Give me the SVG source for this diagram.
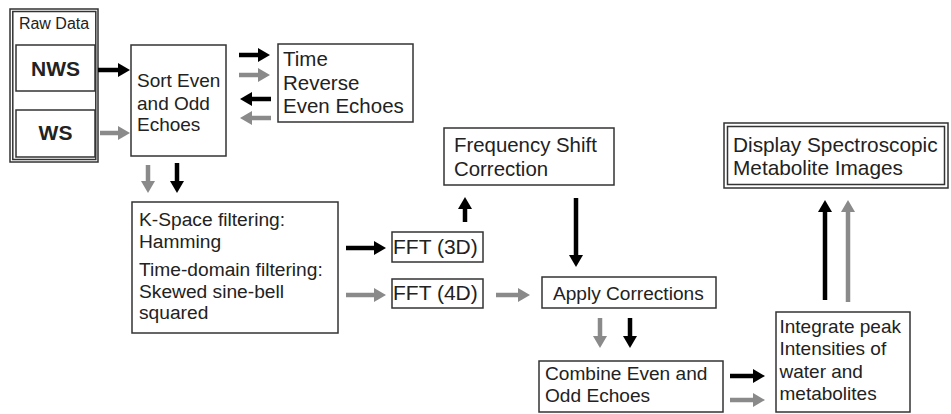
<svg xmlns="http://www.w3.org/2000/svg" width="951" height="414" viewBox="0 0 951 414">
<style>
.box{fill:#fff;stroke:#333;stroke-width:1.5}
.t{font-family:"Liberation Sans",Arial,sans-serif;fill:#222}
.b{font-weight:bold;text-anchor:middle}
.ab{stroke:#000;stroke-width:4.5;fill:none}
.ag{stroke:#8a8a8a;stroke-width:4.5;fill:none}
</style>
<defs>
<marker id="hb" viewBox="0 0 12 14" markerWidth="12" markerHeight="14" refX="2" refY="7" markerUnits="userSpaceOnUse" orient="auto"><path d="M0,0 L12,7 L0,14 z" fill="#000"/></marker>
<marker id="hg" viewBox="0 0 12 14" markerWidth="12" markerHeight="14" refX="2" refY="7" markerUnits="userSpaceOnUse" orient="auto"><path d="M0,0 L12,7 L0,14 z" fill="#8a8a8a"/></marker>
</defs>
<rect width="951" height="414" fill="#fff"/>

<g id="rawdata">
<rect class="box" x="10" y="9" width="88" height="153"/>
<rect class="box" x="12.8" y="11.5" width="83" height="148" fill="none"/>
<text class="t" x="54" y="29" font-size="16" text-anchor="middle">Raw Data</text>
</g>
<g id="nws">
<rect class="box" x="16" y="45" width="79" height="46"/>
<text class="t b" x="55.5" y="76" font-size="21">NWS</text>
</g>
<g id="ws">
<rect class="box" x="16" y="110" width="79" height="47"/>
<text class="t b" x="55.5" y="140" font-size="21">WS</text>
</g>
<g id="sort">
<rect class="box" x="131" y="45" width="95" height="111"/>
<text class="t" font-size="19"><tspan x="137" y="87">Sort Even</tspan><tspan x="137" y="110">and Odd</tspan><tspan x="137" y="131">Echoes</tspan></text>
</g>
<g id="timereverse">
<rect class="box" x="278" y="44" width="135" height="78"/>
<text class="t" font-size="20.5"><tspan x="283" y="66">Time</tspan><tspan x="283" y="90">Reverse</tspan><tspan x="283" y="113">Even Echoes</tspan></text>
</g>
<g id="filtering">
<rect class="box" x="132" y="202" width="206" height="131"/>
<text class="t" font-size="19.2"><tspan x="139" y="226">K-Space filtering:</tspan><tspan x="139" y="248">Hamming</tspan><tspan x="139" y="276">Time-domain filtering:</tspan><tspan x="139" y="298">Skewed sine-bell</tspan><tspan x="139" y="319">squared</tspan></text>
</g>
<g id="fft3d">
<rect class="box" x="392" y="232" width="91" height="30"/>
<text class="t" x="393" y="254" font-size="21">FFT (3D)</text>
</g>
<g id="fft4d">
<rect class="box" x="392" y="279" width="91" height="29"/>
<text class="t" x="393" y="300" font-size="21">FFT (4D)</text>
</g>
<g id="freqshift">
<rect class="box" x="444" y="128" width="170" height="57"/>
<text class="t" font-size="20.4"><tspan x="454" y="152">Frequency Shift</tspan><tspan x="454" y="176">Correction</tspan></text>
</g>
<g id="apply">
<rect class="box" x="542" y="277" width="174" height="31"/>
<text class="t" x="553" y="300" font-size="19.1">Apply Corrections</text>
</g>
<g id="combine">
<rect class="box" x="539" y="361" width="184" height="51"/>
<text class="t" font-size="19.1"><tspan x="545" y="380">Combine Even and</tspan><tspan x="545" y="402">Odd Echoes</tspan></text>
</g>
<g id="integrate">
<rect class="box" x="776" y="312" width="134" height="100"/>
<text class="t" font-size="19"><tspan x="779.5" y="333">Integrate peak</tspan><tspan x="779.5" y="355">Intensities of</tspan><tspan x="779.5" y="378">water and</tspan><tspan x="779.5" y="400">metabolites</tspan></text>
</g>
<g id="display">
<rect class="box" x="724" y="123" width="224" height="65"/>
<rect class="box" x="727.5" y="126.5" width="217" height="58" fill="none"/>
<text class="t" font-size="20.8"><tspan x="733" y="152">Display Spectroscopic</tspan><tspan x="733" y="175">Metabolite Images</tspan></text>
</g>

<g id="connectors">
<line class="ab" x1="98" y1="70" x2="120" y2="70" marker-end="url(#hb)"/>
<line class="ag" x1="100" y1="133" x2="120" y2="133" marker-end="url(#hg)"/>
<line class="ab" x1="239" y1="55" x2="260" y2="55" marker-end="url(#hb)"/>
<line class="ag" x1="239" y1="75" x2="260" y2="75" marker-end="url(#hg)"/>
<line class="ab" x1="271" y1="99" x2="250" y2="99" marker-end="url(#hb)"/>
<line class="ag" x1="271" y1="118" x2="250" y2="118" marker-end="url(#hg)"/>
<line class="ag" x1="148" y1="165" x2="148" y2="183" marker-end="url(#hg)"/>
<line class="ab" x1="177" y1="163" x2="177" y2="183" marker-end="url(#hb)"/>
<line class="ab" x1="346" y1="248" x2="376" y2="248" marker-end="url(#hb)"/>
<line class="ag" x1="346" y1="295" x2="376" y2="295" marker-end="url(#hg)"/>
<line class="ab" x1="465" y1="222" x2="465" y2="207" marker-end="url(#hb)"/>
<line class="ab" x1="576" y1="198" x2="576" y2="257" marker-end="url(#hb)"/>
<line class="ag" x1="496" y1="295" x2="520" y2="295" marker-end="url(#hg)"/>
<line class="ag" x1="600" y1="318" x2="600" y2="338" marker-end="url(#hg)"/>
<line class="ab" x1="630" y1="318" x2="630" y2="338" marker-end="url(#hb)"/>
<line class="ab" x1="730" y1="376" x2="755" y2="376" marker-end="url(#hb)"/>
<line class="ag" x1="730" y1="400" x2="755" y2="400" marker-end="url(#hg)"/>
<line class="ab" x1="825" y1="300" x2="825" y2="210" marker-end="url(#hb)"/>
<line class="ag" x1="848" y1="302" x2="848" y2="210" marker-end="url(#hg)"/>
</g>
</svg>
